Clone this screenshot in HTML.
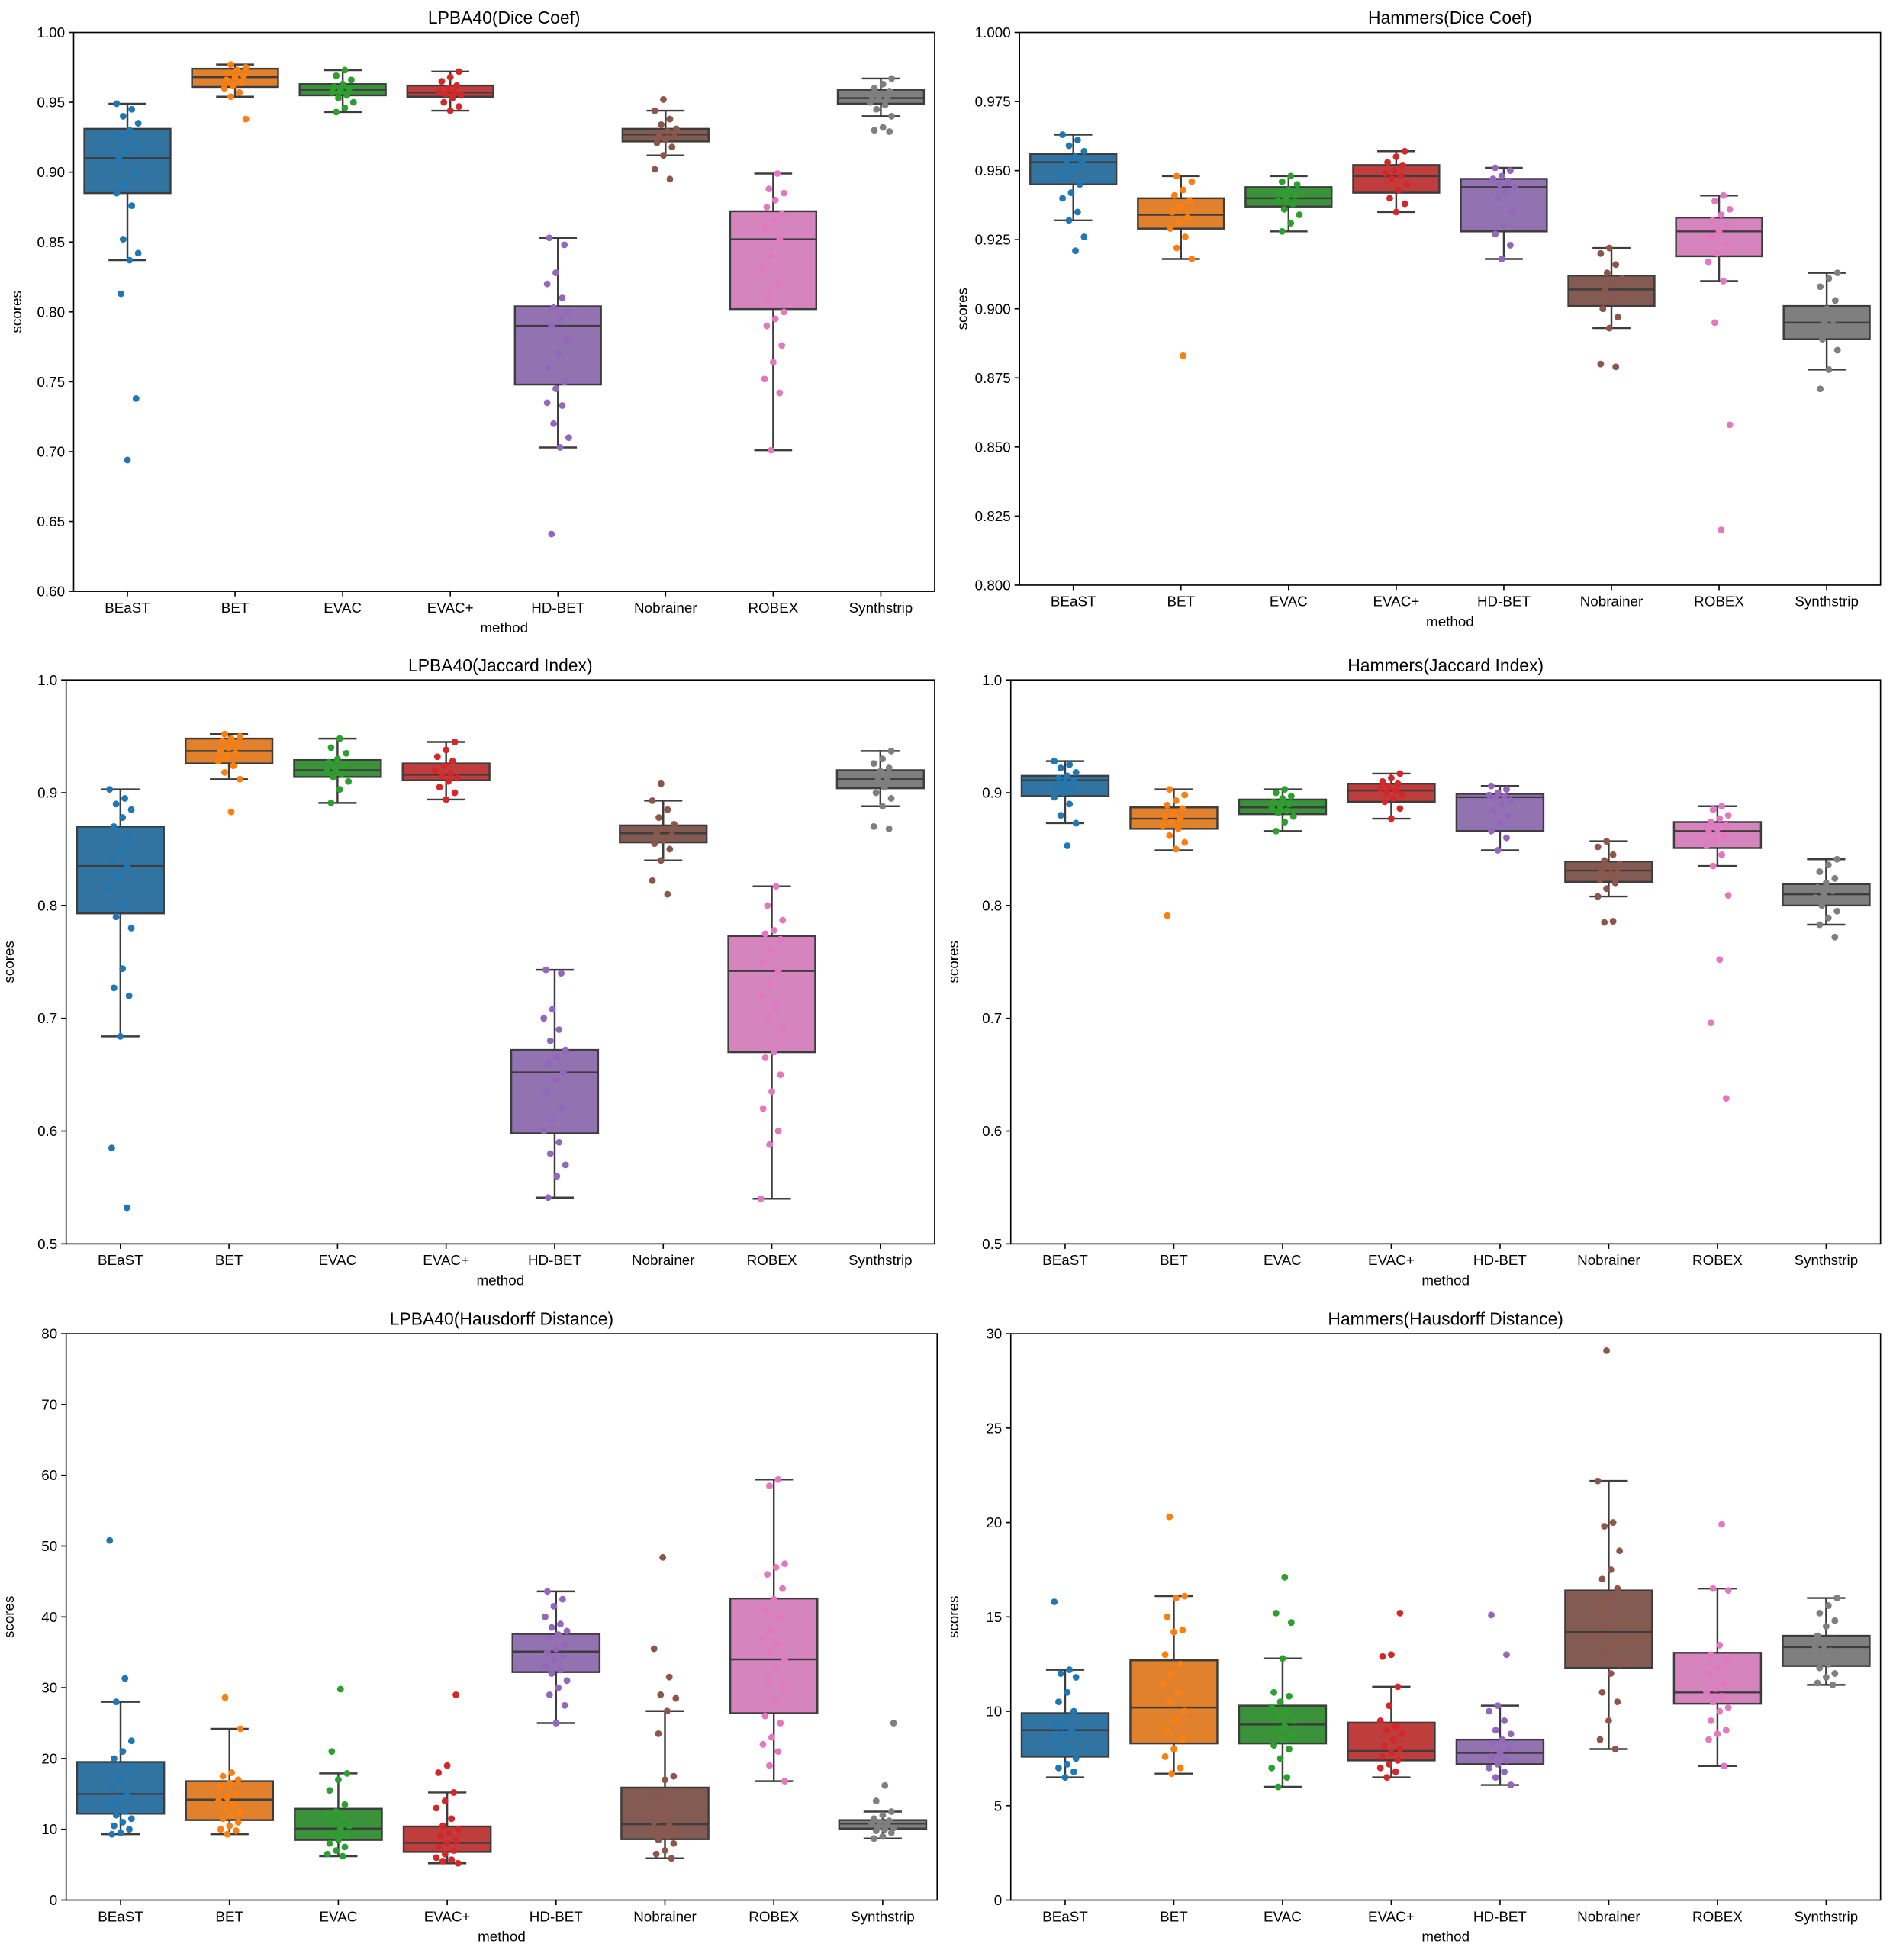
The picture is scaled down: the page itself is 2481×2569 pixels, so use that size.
<!DOCTYPE html>
<html><head><meta charset="utf-8"><style>
html,body{margin:0;padding:0;background:#fff}
svg{display:block;font-family:"Liberation Sans","DejaVu Sans",sans-serif}
</style></head><body>
<svg id="fig" width="2481" height="2569" viewBox="0 0 1517 1571" preserveAspectRatio="none" xmlns="http://www.w3.org/2000/svg"></svg>
<script>
const categories=["BEaST","BET","EVAC","EVAC+","HD-BET","Nobrainer","ROBEX","Synthstrip"];
const boxColors=["#3274a1","#e1812c","#3a923a","#c03d3e","#9372b2","#845b53","#d684bd","#7f7f7f"];
const ptColors=["#1f77b4","#ff7f0e","#2ca02c","#d62728","#9467bd","#8c564b","#e377c2","#7f7f7f"];

// box stats: [whiskerLow, q1, median, q3, whiskerHigh]
const statsLpbaDice=[[0.837,0.885,0.910,0.931,0.949],[0.954,0.961,0.968,0.974,0.977],[0.943,0.955,0.959,0.963,0.973],[0.944,0.954,0.957,0.962,0.972],[0.703,0.748,0.790,0.804,0.853],[0.912,0.922,0.927,0.931,0.944],[0.701,0.802,0.852,0.872,0.899],[0.940,0.949,0.953,0.959,0.967]];
const statsHamDice=[[0.932,0.945,0.953,0.956,0.963],[0.918,0.929,0.934,0.940,0.948],[0.928,0.937,0.940,0.944,0.948],[0.935,0.942,0.948,0.952,0.957],[0.918,0.928,0.944,0.947,0.951],[0.893,0.901,0.907,0.912,0.922],[0.910,0.919,0.928,0.933,0.941],[0.878,0.889,0.895,0.901,0.913]];
const statsLpbaJac=[[0.684,0.793,0.835,0.870,0.903],[0.912,0.926,0.937,0.948,0.952],[0.891,0.914,0.920,0.929,0.948],[0.894,0.911,0.916,0.926,0.945],[0.541,0.598,0.652,0.672,0.743],[0.840,0.856,0.864,0.871,0.893],[0.540,0.670,0.742,0.773,0.817],[0.888,0.904,0.912,0.920,0.937]];
const statsHamJac=[[0.873,0.897,0.911,0.915,0.928],[0.849,0.868,0.877,0.887,0.903],[0.866,0.881,0.887,0.894,0.903],[0.877,0.892,0.902,0.908,0.917],[0.849,0.866,0.896,0.899,0.906],[0.808,0.821,0.831,0.839,0.857],[0.835,0.851,0.866,0.874,0.888],[0.783,0.800,0.810,0.819,0.841]];
const statsLpbaHd=[[9.3,12.2,15,19.5,28],[9.3,11.3,14.2,16.8,24.2],[6.2,8.5,10.1,12.9,17.9],[5.2,6.8,8.1,10.4,15.2],[25,32.2,35.1,37.6,43.6],[5.9,8.6,10.7,15.9,26.7],[16.8,26.4,34,42.6,59.4],[8.7,10.1,10.8,11.3,12.5]];
const statsHamHd=[[6.5,7.6,9.0,9.9,12.2],[6.7,8.3,10.2,12.7,16.1],[6.0,8.3,9.3,10.3,12.8],[6.5,7.4,7.9,9.4,11.3],[6.1,7.2,7.8,8.5,10.3],[8.0,12.3,14.2,16.4,22.2],[7.1,10.4,11.0,13.1,16.5],[11.4,12.4,13.4,14.0,16.0]];

const ptsLpbaDice=[[0.949,0.945,0.94,0.935,0.93,0.925,0.92,0.915,0.91,0.9,0.89,0.885,0.876,0.852,0.842,0.837,0.813,0.738,0.694],[0.977,0.975,0.973,0.971,0.969,0.968,0.966,0.964,0.962,0.96,0.957,0.954,0.938],[0.973,0.969,0.966,0.963,0.961,0.96,0.958,0.957,0.955,0.953,0.95,0.946,0.943],[0.972,0.968,0.965,0.962,0.96,0.958,0.957,0.956,0.955,0.953,0.95,0.947,0.944],[0.853,0.848,0.828,0.82,0.81,0.803,0.8,0.795,0.79,0.78,0.77,0.76,0.75,0.745,0.735,0.733,0.72,0.71,0.703,0.641],[0.952,0.944,0.938,0.934,0.931,0.929,0.927,0.925,0.923,0.921,0.918,0.912,0.902,0.895],[0.899,0.888,0.885,0.88,0.875,0.87,0.865,0.86,0.852,0.84,0.83,0.82,0.81,0.8,0.795,0.79,0.776,0.764,0.752,0.742,0.701],[0.967,0.963,0.96,0.958,0.956,0.954,0.953,0.952,0.95,0.948,0.945,0.94,0.932,0.930,0.929]];
const ptsHamDice=[[0.963,0.961,0.959,0.957,0.955,0.954,0.953,0.951,0.948,0.945,0.942,0.94,0.935,0.932,0.926,0.921],[0.948,0.946,0.943,0.941,0.939,0.937,0.935,0.933,0.931,0.929,0.926,0.922,0.918,0.883],[0.948,0.946,0.945,0.943,0.942,0.941,0.94,0.939,0.938,0.936,0.934,0.931,0.928],[0.957,0.955,0.953,0.952,0.95,0.949,0.948,0.947,0.945,0.943,0.94,0.938,0.935],[0.951,0.95,0.948,0.947,0.946,0.945,0.944,0.942,0.94,0.935,0.93,0.927,0.923,0.918],[0.922,0.92,0.916,0.913,0.911,0.909,0.907,0.905,0.903,0.9,0.897,0.893,0.880,0.879],[0.941,0.939,0.936,0.934,0.932,0.93,0.928,0.926,0.923,0.92,0.917,0.91,0.895,0.858,0.820],[0.913,0.911,0.908,0.903,0.9,0.898,0.896,0.895,0.893,0.891,0.889,0.885,0.878,0.871]];
const ptsLpbaJac=[[0.903,0.895,0.89,0.885,0.878,0.87,0.86,0.85,0.84,0.835,0.825,0.815,0.8,0.79,0.78,0.744,0.727,0.72,0.684,0.585,0.532],[0.952,0.95,0.948,0.946,0.943,0.94,0.937,0.935,0.932,0.928,0.924,0.918,0.912,0.883],[0.948,0.94,0.935,0.93,0.927,0.924,0.921,0.919,0.917,0.914,0.91,0.903,0.891],[0.945,0.938,0.932,0.928,0.924,0.92,0.917,0.915,0.913,0.91,0.905,0.9,0.894],[0.743,0.74,0.708,0.7,0.69,0.68,0.672,0.665,0.66,0.652,0.645,0.635,0.62,0.61,0.6,0.59,0.58,0.57,0.56,0.541],[0.908,0.893,0.885,0.878,0.872,0.868,0.865,0.862,0.858,0.855,0.85,0.84,0.822,0.81],[0.817,0.8,0.787,0.778,0.775,0.77,0.76,0.75,0.742,0.73,0.72,0.71,0.7,0.69,0.67,0.665,0.65,0.635,0.62,0.6,0.588,0.54],[0.937,0.93,0.926,0.922,0.919,0.916,0.913,0.911,0.908,0.905,0.9,0.895,0.888,0.870,0.868]];
const ptsHamJac=[[0.928,0.925,0.922,0.918,0.915,0.913,0.911,0.909,0.906,0.903,0.9,0.896,0.89,0.88,0.873,0.853],[0.903,0.898,0.893,0.889,0.886,0.882,0.879,0.877,0.874,0.871,0.868,0.862,0.856,0.85,0.791],[0.903,0.9,0.897,0.895,0.892,0.89,0.888,0.886,0.884,0.882,0.879,0.874,0.866],[0.917,0.913,0.91,0.908,0.906,0.904,0.902,0.9,0.898,0.895,0.892,0.886,0.877],[0.906,0.903,0.9,0.898,0.897,0.895,0.893,0.89,0.885,0.88,0.873,0.866,0.86,0.849],[0.857,0.852,0.845,0.84,0.837,0.834,0.831,0.829,0.826,0.823,0.82,0.815,0.808,0.786,0.785],[0.888,0.885,0.88,0.877,0.874,0.871,0.868,0.865,0.862,0.858,0.853,0.845,0.835,0.809,0.752,0.696,0.629],[0.841,0.836,0.83,0.824,0.82,0.816,0.813,0.81,0.807,0.804,0.8,0.795,0.789,0.783,0.772]];
const ptsLpbaHd=[[50.8,31.3,28,22.5,21,20,18.5,17,16,15,14,13.5,12.5,12,11.5,11,10.5,10,9.5,9.3],[28.6,24.2,18,17.5,17,16.5,16,15,14.5,14,13.5,13,12.5,12,11.5,11,10.5,10,9.8,9.3],[29.8,21,17.9,17,15.5,13.5,12.5,12,11.5,11,10.5,10,9.5,9,8.5,8,7.5,7,6.5,6.2],[29,19,18,15.2,14,13,11.5,10.5,10,9.5,9,8.5,8,7.5,7,6.5,6,5.7,5.5,5.2],[43.6,42.5,41.5,40,39,38.5,38,37.5,37,36,35.5,35,34.5,34,33,32.5,32,31,30,29,27.5,25],[48.4,35.5,31.5,29,28.5,26.7,23.5,17.5,17,15,13,12,11,10.5,10,9.5,9,8.5,8,7,6.5,5.9],[59.4,58.5,47.5,47,46,44,42.5,41,40,38,37,36,35,34,33,31,30,28,26,25,23,22,21,19,16.8],[25,16.2,14,12.5,12,11.5,11.2,11,10.8,10.6,10.4,10.2,10,9.8,9.5,9,8.7]];
const ptsHamHd=[[15.8,12.2,12,11.8,11,10.5,10,9.5,9.2,9,8.8,8.5,8,7.8,7.5,7.2,7,6.8,6.5],[20.3,16.1,16,15,14.3,14.2,13,12.5,12,11.5,11,10.5,10,9.5,9,8.5,8,7.6,7,6.7],[17.1,15.2,14.7,12.8,11,10.8,10.5,10.2,10,9.8,9.5,9.2,9,8.7,8.5,8.2,8,7.5,7,6.5,6],[15.2,13,12.9,11.3,10.3,9.5,9.2,9,8.8,8.5,8.2,8,7.8,7.6,7.4,7.2,7,6.8,6.5],[15.1,13,10.3,10,9.5,9,8.8,8.5,8.3,8,7.8,7.6,7.4,7.2,7,6.8,6.5,6.1],[29.1,22.2,20,19.8,18.5,17.5,17,16.5,16,15.5,15,14.5,14,13.5,13,12.5,12,11,10.5,9.5,8.5,8],[19.9,16.5,16.4,13.5,13,12.8,12.3,12,11.5,11.2,11,10.8,10.5,10.2,10,9.5,9,8.8,8.5,7.1],[16,15.6,15.2,14.8,14.5,14,13.8,13.5,13.4,13.2,13,12.8,12.5,12.3,12,11.8,11.5,11.4]];

const ticksDiceL=["0.60","0.65","0.70","0.75","0.80","0.85","0.90","0.95","1.00"];
const ticksDiceH=["0.800","0.825","0.850","0.875","0.900","0.925","0.950","0.975","1.000"];
const ticksJac=["0.5","0.6","0.7","0.8","0.9","1.0"];
const ticksHdL=["0","10","20","30","40","50","60","70","80"];
const ticksHdH=["0","5","10","15","20","25","30"];

const panels=[
 {name:"lpba40-dice",title:"LPBA40(Dice Coef)",x0:59,x1:749,y0:26,y1:474,min:0.6,max:1.0,ticks:ticksDiceL,stats:statsLpbaDice,pts:ptsLpbaDice},
 {name:"hammers-dice",title:"Hammers(Dice Coef)",x0:817,x1:1507,y0:26,y1:469,min:0.8,max:1.0,ticks:ticksDiceH,stats:statsHamDice,pts:ptsHamDice},
 {name:"lpba40-jaccard",title:"LPBA40(Jaccard Index)",x0:53,x1:749,y0:545,y1:997,min:0.5,max:1.0,ticks:ticksJac,stats:statsLpbaJac,pts:ptsLpbaJac},
 {name:"hammers-jaccard",title:"Hammers(Jaccard Index)",x0:810,x1:1507,y0:545,y1:997,min:0.5,max:1.0,ticks:ticksJac,stats:statsHamJac,pts:ptsHamJac},
 {name:"lpba40-hausdorff",title:"LPBA40(Hausdorff Distance)",x0:53,x1:751,y0:1069,y1:1523,min:0,max:80,ticks:ticksHdL,stats:statsLpbaHd,pts:ptsLpbaHd},
 {name:"hammers-hausdorff",title:"Hammers(Hausdorff Distance)",x0:810,x1:1507,y0:1069,y1:1523,min:0,max:30,ticks:ticksHdH,stats:statsHamHd,pts:ptsHamHd}
];

const NS="http://www.w3.org/2000/svg";
const fig=document.getElementById('fig');
function mk(tag,attrs,parent){const e=document.createElementNS(NS,tag);for(const k in attrs)e.setAttribute(k,attrs[k]);parent.appendChild(e);return e;}

panels.forEach(p=>{
  const g=mk('g',{},fig);
  
  
  const sp=(p.x1-p.x0)/8;
  const xc=i=>p.x0+(i+0.5)*sp;
  const yv=v=>p.y1-(v-p.min)/(p.max-p.min)*(p.y1-p.y0);
  const bw=sp*0.8;
  // boxes
  p.stats.forEach((s,i)=>{
    const bg=mk('g',{},g);
    
    
    const cx=xc(i), lc="#3d3d3d";
    mk('line',{x1:cx,x2:cx,y1:yv(s[0]),y2:yv(s[1]),stroke:lc,'stroke-width':1.5},bg);
    mk('line',{x1:cx,x2:cx,y1:yv(s[3]),y2:yv(s[4]),stroke:lc,'stroke-width':1.5},bg);
    mk('line',{x1:cx-bw*0.22,x2:cx+bw*0.22,y1:yv(s[0]),y2:yv(s[0]),stroke:lc,'stroke-width':1.5},bg);
    mk('line',{x1:cx-bw*0.22,x2:cx+bw*0.22,y1:yv(s[4]),y2:yv(s[4]),stroke:lc,'stroke-width':1.5},bg);
    mk('rect',{x:cx-bw/2,y:yv(s[3]),width:bw,height:Math.max(0.5,yv(s[1])-yv(s[3])),fill:boxColors[i],stroke:lc,'stroke-width':1.5},bg);
    mk('line',{x1:cx-bw/2,x2:cx+bw/2,y1:yv(s[2]),y2:yv(s[2]),stroke:lc,'stroke-width':1.5},bg);
  });
  // points
  p.pts.forEach((arr,i)=>{
    const pg=mk('g',{},g);
    
    
    arr.forEach((v,j)=>{
      const off=(((j*7+i*3)%11)/10-0.5)*0.2*sp;
      const c=mk('circle',{cx:xc(i)+off,cy:yv(v),r:2.7,fill:ptColors[i]},pg);
      
      
    });
  });
  // frame
  const fr=mk('rect',{x:p.x0,y:p.y0,width:p.x1-p.x0,height:p.y1-p.y0,fill:'none',stroke:'#000','stroke-width':1},g);
  
  
  // y ticks
  const n=p.ticks.length;
  p.ticks.forEach((t,k)=>{
    const v=p.min+(p.max-p.min)*k/(n-1);
    const y=yv(v);
    mk('line',{x1:p.x0-4,x2:p.x0,y1:y,y2:y,stroke:'#000','stroke-width':1},g);
    const tx=mk('text',{x:p.x0-7,y:y+4,'font-size':11.5,'text-anchor':'end',fill:'#000'},g);
    tx.textContent=t;
    
    
  });
  // x ticks
  categories.forEach((c,i)=>{
    mk('line',{x1:xc(i),x2:xc(i),y1:p.y1,y2:p.y1+4,stroke:'#000','stroke-width':1},g);
    const tx=mk('text',{x:xc(i),y:p.y1+17,'font-size':11.5,'text-anchor':'middle',fill:'#000'},g);
    tx.textContent=c;
    
    
  });
  const ti=mk('text',{x:(p.x0+p.x1)/2,y:p.y0-7,'font-size':14,'text-anchor':'middle',fill:'#000'},g);
  ti.textContent=p.title;
  
  
  const xl=mk('text',{x:(p.x0+p.x1)/2,y:p.y1+33,'font-size':11.5,'text-anchor':'middle',fill:'#000'},g);
  xl.textContent="method";
  
  
  const yx=p.x0-42, ym=(p.y0+p.y1)/2;
  const yl=mk('text',{x:yx,y:ym,'font-size':11.5,'text-anchor':'middle',fill:'#000',transform:`rotate(-90 ${yx} ${ym})`},g);
  yl.textContent="scores";
  
  
});
</script>
</body></html>
